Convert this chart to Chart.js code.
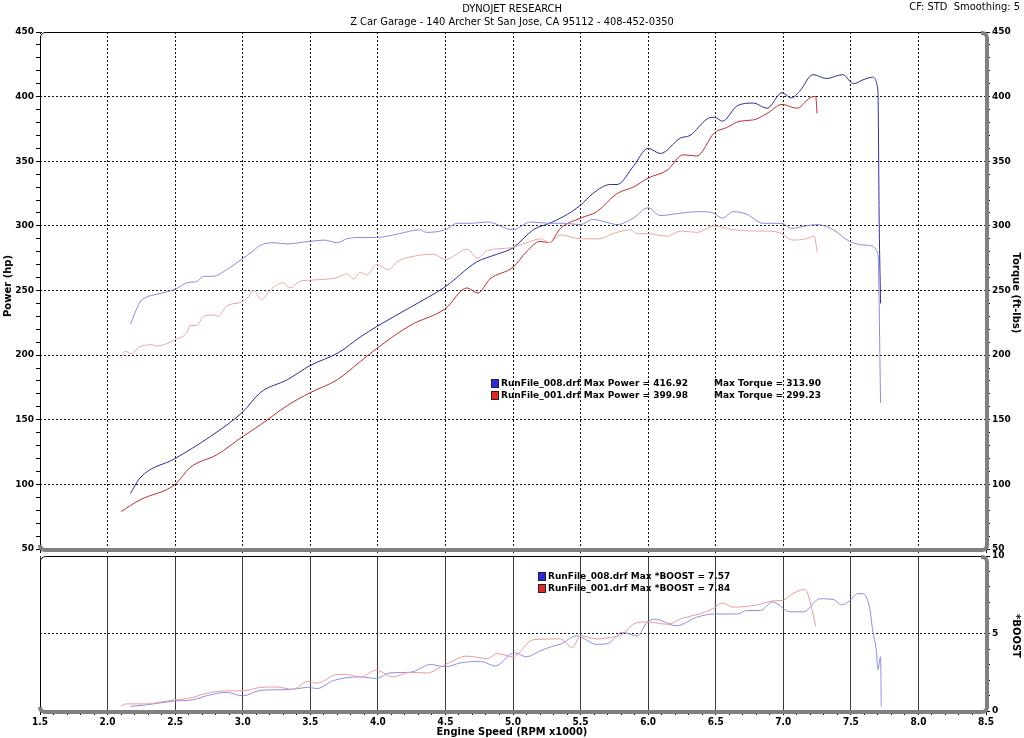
<!DOCTYPE html>
<html>
<head>
<meta charset="utf-8">
<script src="https://cdn.jsdelivr.net/npm/chart.js@4.4.1/dist/chart.umd.min.js"></script>
<style>
body{margin:0;background:#fff;width:1024px;height:738px;overflow:hidden;position:relative;font-family:"DejaVu Sans",Verdana,sans-serif;color:#000;}
canvas{position:absolute;left:0;}
#topChart{top:0;}
#bottomChart{top:548px;}
.txt{position:absolute;white-space:nowrap;line-height:1;}
.narrow{font-family:"DejaVu Sans Condensed","Liberation Sans Narrow","DejaVu Sans",sans-serif;font-stretch:condensed;}
.rot{transform:translate(-50%,-50%) rotate(90deg);font-weight:bold;font-size:10px;}
.rotl{transform:translate(-50%,-50%) rotate(-90deg);font-weight:bold;font-size:10px;}
.leg{position:absolute;font-weight:bold;font-size:9px;white-space:nowrap;}
.leg .row{position:relative;height:12px;line-height:12px;}
.leg .box{position:absolute;left:0;top:2px;width:6px;height:7px;border:1px solid #222;}
</style>
</head>
<body>
<canvas id="topChart" width="1024" height="560"></canvas>
<canvas id="bottomChart" width="1024" height="190"></canvas>

<div class="txt narrow" style="left:0;width:1024px;text-align:center;top:3px;font-size:11px;">DYNOJET RESEARCH</div>
<div class="txt narrow" style="left:0;width:1024px;text-align:center;top:16px;font-size:11px;">Z Car Garage - 140 Archer St San Jose, CA 95112 - 408-452-0350</div>
<div class="txt narrow" style="right:4px;top:1px;font-size:11px;">CF: STD&nbsp;&nbsp;Smoothing: 5</div>
<div class="txt rotl" style="left:8px;top:286px;">Power (hp)</div>
<div class="txt rot" style="left:1016px;top:293px;">Torque (ft-lbs)</div>
<div class="txt rot" style="left:1016px;top:636px;">*BOOST</div>
<div class="txt narrow" style="left:0;width:1024px;text-align:center;top:726px;font-size:11px;font-weight:bold;">Engine Speed (RPM x1000)</div>
<div id="legTop" class="leg" style="left:491px;top:377px;"></div>
<div id="legBottom" class="leg" style="left:538px;top:570px;"></div>

<script>
// run names and summary values
var runNames = ['RunFile_008.drf', 'RunFile_001.drf'];
var maxPower = ['416.92', '399.98'];
var maxTorque = ['313.90', '299.23'];
var maxBoost = ['7.57', '7.84'];

// RunFile_008 (blue)
var rpm008Pwr = [2.17,2.24,2.50,2.76,3.00,3.13,3.33,3.50,3.71,3.87,3.99,4.24,4.50,4.73,4.88,5.00,5.15,5.27,5.37,5.50,5.59,5.72,5.77,5.89,6.00,6.09,6.24,6.31,6.44,6.49,6.55,6.66,6.78,6.88,6.99,7.06,7.12,7.22,7.32,7.44,7.52,7.59,7.66,7.70,7.71,7.72];
var pwr008 = [93,105,120,137,156,171,181,192,202,214,222,237,253,272,278,283,297,302,307,316,325,332,332,346,360,356,368,370,383,384,381,393,395,391,403,399,404,417,414,417,410,413,415,405,300,240];
var rpm008Tq = [2.17,2.20,2.24,2.29,2.36,2.50,2.59,2.66,2.71,2.78,2.88,2.99,3.07,3.13,3.23,3.33,3.42,3.50,3.60,3.70,3.77,3.87,3.99,4.16,4.31,4.36,4.50,4.59,4.70,4.81,5.00,5.13,5.27,5.37,5.50,5.59,5.72,5.77,5.89,6.00,6.09,6.25,6.38,6.48,6.55,6.63,6.73,6.85,6.99,7.06,7.12,7.25,7.37,7.49,7.62,7.70,7.72];
var tq008 = [224,232,241,245,247,251,256,257,261,261,266,274,280,285,287,286,287,288,289,287,290,291,291,294,297,295,297,302,302,303,297,303,302,302,301,305,302,301,306,314,308,310,311,310,306,311,309,302,302,298,299,301,297,288,285,279,163];
var rpm008Boost = [2.17,2.29,2.50,2.63,2.74,2.88,3.00,3.13,3.25,3.37,3.48,3.55,3.67,3.87,3.99,4.09,4.24,4.39,4.50,4.61,4.76,4.87,5.01,5.10,5.20,5.30,5.35,5.47,5.62,5.70,5.81,5.92,5.99,6.05,6.21,6.36,6.49,6.66,6.73,6.83,6.92,7.05,7.15,7.27,7.37,7.43,7.49,7.55,7.59,7.64,7.66,7.69,7.70,7.72,7.725];
var boost008 = [0.3,0.4,0.65,0.72,1.0,1.2,0.98,1.33,1.37,1.4,1.52,1.45,1.96,2.2,2.1,2.46,2.5,3.0,2.85,3.1,3.2,2.9,3.76,3.5,3.87,4.2,4.3,4.85,4.3,4.35,5.07,4.85,5.7,5.93,5.5,6.05,6.26,6.26,6.48,6.48,7.03,6.4,6.4,7.24,7.2,6.85,7.1,7.57,7.57,6.6,5.3,3.76,2.67,3.5,0.28];

// RunFile_001 (red)
var rpm001Pwr = [2.10,2.24,2.50,2.61,2.81,3.00,3.13,3.33,3.50,3.70,3.87,3.99,4.24,4.50,4.66,4.74,4.83,5.00,5.10,5.20,5.27,5.35,5.50,5.62,5.77,5.89,6.00,6.14,6.26,6.36,6.49,6.58,6.68,6.78,6.88,6.99,7.10,7.22,7.24,7.25];
var pwr001 = [79,88,100,113,123,137,146,161,171,181,195,205,223,236,252,248,259,268,280,288,287,298,306,311,325,330,337,343,355,354,372,376,381,382,387,394,391,400,400,387];
var rpm001Tq = [2.10,2.13,2.18,2.23,2.33,2.36,2.50,2.59,2.61,2.66,2.71,2.78,2.82,2.88,2.99,3.04,3.08,3.14,3.20,3.30,3.35,3.42,3.50,3.70,3.77,3.82,3.87,3.92,3.99,4.08,4.14,4.29,4.41,4.50,4.66,4.74,4.81,4.98,5.10,5.21,5.27,5.35,5.50,5.64,5.74,5.87,5.92,6.00,6.14,6.24,6.36,6.49,6.63,6.78,6.88,6.99,7.07,7.17,7.23,7.25];
var tq001 = [198,203,201,206,208,207,212,218,223,223,230,231,230,238,241,245,250,243,250,256,252,257,258,260,263,259,264,262,270,266,272,277,278,274,282,275,281,283,287,290,287,293,290,290,294,297,294,294,292,296,295,300,297,296,296,294,289,290,292,280];
var rpm001Boost = [2.10,2.14,2.29,2.39,2.50,2.63,2.71,2.88,3.00,3.13,3.25,3.37,3.48,3.55,3.70,3.77,3.87,3.99,4.11,4.24,4.36,4.50,4.66,4.81,4.88,5.00,5.15,5.35,5.44,5.50,5.62,5.72,5.81,5.89,5.99,6.14,6.26,6.38,6.48,6.55,6.63,6.81,6.92,7.00,7.07,7.16,7.18,7.21,7.24];
var boost001 = [0.33,0.46,0.46,0.57,0.72,0.87,1.1,1.3,1.3,1.52,1.55,1.4,1.9,1.8,2.35,2.35,2.2,2.63,2.2,2.5,2.45,3.0,3.54,3.38,3.7,3.5,4.6,4.65,4.1,4.85,4.65,4.75,4.95,5.6,5.75,5.6,6.0,6.26,6.6,6.96,6.7,6.85,7.1,7.15,7.57,7.84,7.6,6.6,5.46];

var boxColors = ['#2a2ae0', '#e02a2a'];
var tickFont = {family: '"DejaVu Sans", Verdana, sans-serif', size: 9, weight: 'bold'};
var xFont = {family: '"DejaVu Sans Condensed", "Liberation Sans Narrow", "DejaVu Sans", sans-serif', size: 10, weight: 'bold'};
var clear = 'rgba(0,0,0,0)';

function pts(xs, ys){
	var out = [];
	for(var i = 0; i < xs.length; i++){
		out.push({x: xs[i], y: ys[i]});
	}
	return out;
}

function line(data, color, axis){
	return {data: data, borderColor: color, borderWidth: 1, pointRadius: 0,
		cubicInterpolationMode: 'monotone', fill: false, yAxisID: axis || 'y'};
}

// rounded frame: thin black left/top, thick grey right/bottom
var framePlugin = {
	id: 'frame',
	beforeDatasetsDraw: function(chart){
		var a = chart.chartArea, ctx = chart.ctx, r = 5;
		ctx.save();
		ctx.strokeStyle = '#000';
		ctx.lineWidth = 1;
		ctx.beginPath();
		ctx.moveTo(a.left + 0.5, a.bottom);
		ctx.lineTo(a.left + 0.5, a.top + r);
		ctx.arcTo(a.left + 0.5, a.top + 0.5, a.left + r, a.top + 0.5, r);
		ctx.lineTo(a.right - r, a.top + 0.5);
		ctx.stroke();
		ctx.strokeStyle = '#808080';
		ctx.lineWidth = 4;
		ctx.beginPath();
		ctx.moveTo(a.right - r, a.top + 1);
		ctx.arcTo(a.right + 1, a.top + 1, a.right + 1, a.top + r, r);
		ctx.lineTo(a.right + 1, a.bottom + 1 - r);
		ctx.arcTo(a.right + 1, a.bottom + 1, a.right + 1 - r, a.bottom + 1, r);
		ctx.lineTo(a.left + r, a.bottom + 1);
		ctx.arcTo(a.left, a.bottom + 1, a.left, a.bottom - r, r);
		ctx.stroke();
		ctx.restore();
	}
};

function everyOther(step){
	return function(v){
		return Math.abs(Math.round(v) - v) < 1e-6 && Math.round(v) % step === 0 ? String(Math.round(v)) : '';
	};
}

new Chart(document.getElementById('topChart'), {
	type: 'line',
	data: {
		datasets: [
			line(pts(rpm008Tq, tq008), '#8a8adf', 'y2'),
			line(pts(rpm001Tq, tq001), '#e9a6a6', 'y2'),
			line(pts(rpm001Pwr, pwr001), '#bb2e2e'),
			line(pts(rpm008Pwr, pwr008), '#2d2d9c')
		]
	},
	options: {
		responsive: false,
		animation: false,
		events: [],
		layout: {padding: {top: 32, left: 0, right: 0, bottom: 0}},
		plugins: {legend: {display: false}, tooltip: {enabled: false}},
		scales: {
			x: {
				type: 'linear', min: 1.5, max: 8.5,
				ticks: {stepSize: 0.5, display: false},
				grid: {color: '#111', tickColor: '#000', tickLength: 4, borderDash: [2, 2]},
				border: {display: false, dash: [2, 2]},
				afterFit: function(s){ s.height = 11; }
			},
			y: {
				position: 'left', min: 50, max: 450,
				ticks: {stepSize: 10, autoSkip: false, callback: everyOther(50), font: tickFont, color: '#000', padding: 2},
				grid: {
					color: function(c){ return c.tick && Math.round(c.tick.value) % 50 === 0 ? '#111' : clear; },
					tickColor: '#000', tickLength: 4, borderDash: [2, 2]
				},
				border: {display: false, dash: [2, 2]},
				afterFit: function(s){ s.width = 40; }
			},
			y2: {
				position: 'right', min: 50, max: 450,
				ticks: {stepSize: 10, autoSkip: false, callback: everyOther(50), font: tickFont, color: '#000', padding: 2},
				grid: {drawOnChartArea: false, tickColor: '#000', tickLength: 4},
				border: {display: false},
				afterFit: function(s){ s.width = 38; }
			}
		}
	},
	plugins: [framePlugin]
});

new Chart(document.getElementById('bottomChart'), {
	type: 'line',
	data: {
		datasets: [
			line(pts(rpm001Boost, boost001), '#eb9a9a'),
			line(pts(rpm008Boost, boost008), '#8e8ee6')
		]
	},
	options: {
		responsive: false,
		animation: false,
		events: [],
		layout: {padding: {top: 8, left: 0, right: 0, bottom: 0}},
		plugins: {legend: {display: false}, tooltip: {enabled: false}},
		scales: {
			x: {
				type: 'linear', min: 1.5, max: 8.5, z: 1,
				ticks: {
					stepSize: 0.1, autoSkip: false, maxRotation: 0, font: xFont, color: '#000', padding: 1,
					callback: function(v){ var t = Math.round(v * 10); return t % 5 === 0 ? (t / 10).toFixed(1) : ''; }
				},
				grid: {
					color: function(c){ return c.tick && Math.round(c.tick.value * 10) % 5 === 0 ? '#3a3a3a' : clear; },
					tickColor: '#000', tickLength: 4
				},
				border: {display: false},
				afterFit: function(s){ s.height = 27; }
			},
			y: {
				position: 'left', min: 0, max: 10,
				ticks: {stepSize: 5, display: false},
				grid: {
					color: function(c){ return c.tick && c.tick.value === 5 ? '#111' : clear; },
					drawTicks: false, borderDash: [2, 2]
				},
				border: {display: false, dash: [2, 2]},
				afterFit: function(s){ s.width = 40; }
			},
			y2: {
				position: 'right', min: 0, max: 10,
				ticks: {stepSize: 1, autoSkip: false, callback: everyOther(5), font: tickFont, color: '#000', padding: 2},
				grid: {drawOnChartArea: false, tickColor: '#000', tickLength: 4},
				border: {display: false},
				afterFit: function(s){ s.width = 38; }
			}
		}
	},
	plugins: [framePlugin]
});

// legends
function addRow(el, i, text, extra, extraLeft){
	var row = document.createElement('div');
	row.className = 'row';
	row.innerHTML = '<span class="box" style="background:' + boxColors[i] + '"></span>' +
		'<span style="margin-left:10px">' + text + '</span>' +
		(extra ? '<span style="position:absolute;left:' + extraLeft + 'px;top:0">' + extra + '</span>' : '');
	el.appendChild(row);
}
var legTop = document.getElementById('legTop');
var legBottom = document.getElementById('legBottom');
for(var i = 0; i < runNames.length; i++){
	addRow(legTop, i, runNames[i] + ' Max Power = ' + maxPower[i], 'Max Torque = ' + maxTorque[i], 223);
	addRow(legBottom, i, runNames[i] + ' Max *BOOST = ' + maxBoost[i]);
}
</script>
</body>
</html>
